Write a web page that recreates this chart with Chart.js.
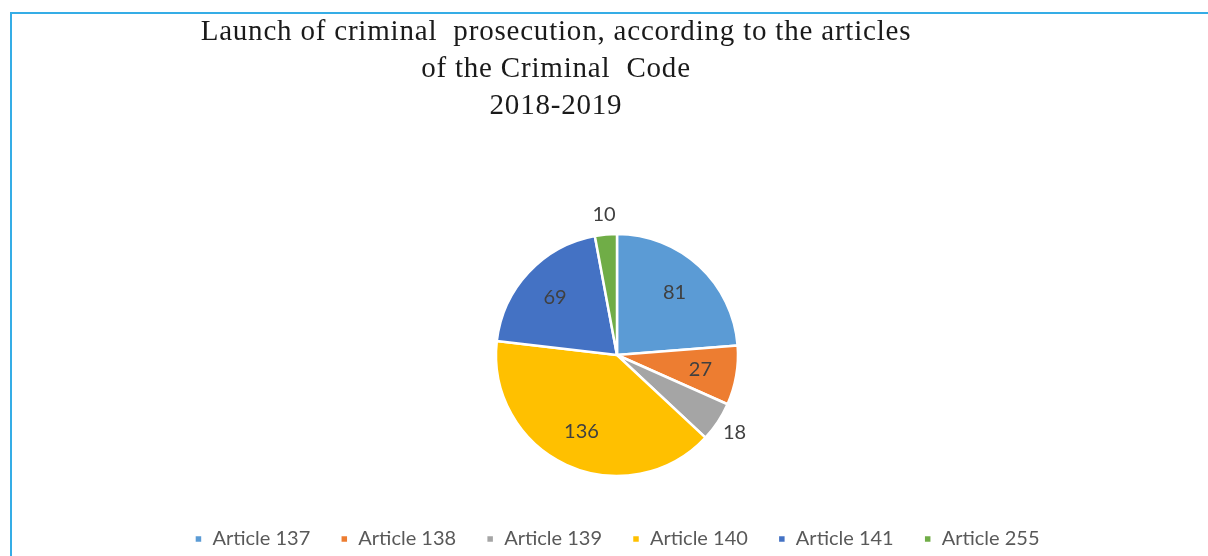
<!DOCTYPE html>
<html>
<head>
    <script src="https://cdn.jsdelivr.net/npm/chart.js@4.4.0/dist/chart.umd.min.js"></script>
    <style>
        body {
            margin: 0;
            background: #ffffff;
        }
        .wrap {
            position: relative;
            width: 1208px;
            height: 556px;
            overflow: hidden;
        }
        .frame {
            position: absolute;
            left: 10px;
            top: 12px;
            width: 1300px;
            height: 600px;
            border-left: 2px solid #35ade6;
            border-top: 2px solid #35ade6;
        }
        .title {
            position: absolute;
            left: 0;
            top: 12px;
            width: 1112px;
            text-align: center;
            font-family: "Liberation Serif", "DejaVu Serif", serif;
            font-size: 29px;
            letter-spacing: 0.8px;
            line-height: 37px;
            color: #1a1a1a;
            white-space: pre;
        }
        canvas {
            position: absolute;
            left: 0;
            top: 0;
        }
    </style>
</head>
<body>
    <div class="wrap">
        <div class="frame"></div>
        <canvas id="pieChart" width="1208" height="559"></canvas>
        <div class="title">Launch of criminal  prosecution, according to the articles
of the Criminal  Code
2018-2019</div>
    </div>

    <script>
        // categories and values
        const articles = ['Article 137', 'Article 138', 'Article 139', 'Article 140', 'Article 141', 'Article 255'];
        const cases = [81, 27, 18, 136, 69, 10];
        const sliceColors = ['#5B9BD5', '#ED7D31', '#A5A5A5', '#FFC000', '#4472C4', '#70AD47'];

        // draws value labels: inside big slices, outside small ones
        const valueLabels = {
            id: 'valueLabels',
            afterDatasetsDraw(chart) {
                const ctx = chart.ctx;
                const meta = chart.getDatasetMeta(0);
                const data = chart.data.datasets[0].data;
                const total = data.reduce((a, b) => a + b, 0);
                ctx.save();
                ctx.font = '20px Lato, "Open Sans", sans-serif';
                ctx.fillStyle = '#404040';
                ctx.textAlign = 'center';
                ctx.textBaseline = 'middle';
                meta.data.forEach((arc, i) => {
                    const p = arc.getProps(['x', 'y', 'startAngle', 'endAngle', 'outerRadius'], true);
                    const mid = (p.startAngle + p.endAngle) / 2;
                    const share = data[i] / total;
                    const dist = share < 0.06 ? p.outerRadius + 20 : p.outerRadius * 0.7;
                    ctx.fillText(String(data[i]), p.x + Math.cos(mid) * dist, p.y + Math.sin(mid) * dist);
                });
                ctx.restore();
            }
        };

        new Chart(document.getElementById('pieChart'), {
            type: 'pie',
            data: {
                labels: articles,
                datasets: [{
                    data: cases,
                    backgroundColor: sliceColors,
                    borderColor: '#ffffff',
                    borderWidth: 2.5,
                    radius: 121
                }]
            },
            options: {
                responsive: false,
                animation: false,
                layout: {
                    padding: { left: 26, top: 211, right: 0, bottom: 0 }
                },
                plugins: {
                    legend: {
                        position: 'bottom',
                        labels: {
                            boxWidth: 8,
                            boxHeight: 8,
                            padding: 30,
                            color: '#595959',
                            font: { family: 'Lato, "Open Sans", sans-serif', size: 20 }
                        }
                    },
                    tooltip: { enabled: false }
                }
            },
            plugins: [valueLabels]
        });
    </script>
</body>
</html>
